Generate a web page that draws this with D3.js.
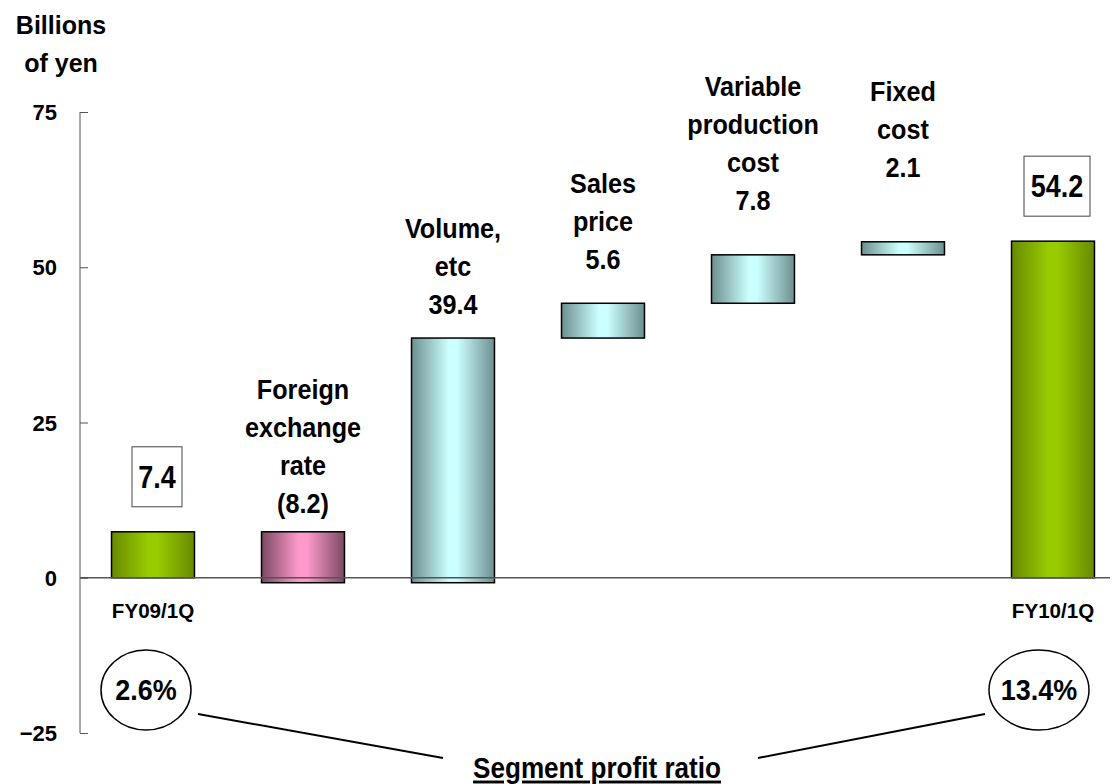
<!DOCTYPE html>
<html><head><meta charset="utf-8">
<script src="https://cdn.jsdelivr.net/npm/d3@7"></script>
<style>body{margin:0;background:#fff}svg{display:block}</style>
</head><body><div id="c"></div>
<script>
const categories = ["FY09/1Q","Foreign exchange rate","Volume, etc","Sales price","Variable production cost","Fixed cost","FY10/1Q"];
const changes = [7.4, -8.2, 39.4, 5.6, 7.8, 2.1, 54.2];
const kinds = ["total","neg","pos","pos","pos","pos","total"];
const labelLines = [null, ["Foreign","exchange","rate","(8.2)"], ["Volume,","etc","39.4"], ["Sales","price","5.6"], ["Variable","production","cost","7.8"], ["Fixed","cost","2.1"], null];
const axisTitle = ["Billions","of yen"];
const yTicks = [-25, 0, 25, 50, 75];
const ratios = ["2.6%", "13.4%"];
const ratioTitle = "Segment profit ratio";

// layout: gap (px) between bar top and centre of the last label line
const labelGap = [0, 29, 34, 44, 55, 75, 0];

const W = 1113, H = 784;
const svg = d3.select("#c").append("svg").attr("width", W).attr("height", H);
const font = "'Liberation Sans',Arial,sans-serif";

const y = d3.scaleLinear().domain([-25, 75]).range([733, 112]);
const x = d3.scaleBand().domain(categories).range([78, 1128]).paddingInner(0.447).paddingOuter(0.2235);

let run = 0;
const segs = changes.map((v, i) => {
  let lo, hi;
  if (kinds[i] === "total") { lo = 0; hi = v; run = v; }
  else { const s = run, e = run + v; lo = Math.min(s, e); hi = Math.max(s, e); run = e; }
  return {cat: categories[i], lo, hi, kind: kinds[i], v, i};
});

const defs = svg.append("defs");
function grad(id, edge, mid) {
  const g = defs.append("linearGradient").attr("id", id).attr("x1", "0").attr("x2", "1").attr("y1", "0").attr("y2", "0");
  g.append("stop").attr("offset", "0%").attr("stop-color", edge);
  g.append("stop").attr("offset", "45%").attr("stop-color", mid);
  g.append("stop").attr("offset", "55%").attr("stop-color", mid);
  g.append("stop").attr("offset", "100%").attr("stop-color", edge);
}
grad("gGreen", "#678a00", "#99cc00");
grad("gPink", "#7a4a60", "#ff99cc");
grad("gCyan", "#6d8f8f", "#ccffff");
const fillOf = k => k === "total" ? "url(#gGreen)" : k === "neg" ? "url(#gPink)" : "url(#gCyan)";

function ctext(parent, cx, cy, txt, size, sx) {
  return parent.append("text")
    .attr("transform", `translate(${cx},${cy}) scale(${sx},1)`)
    .attr("text-anchor", "middle").attr("dy", "0.36em")
    .attr("font-family", font).attr("font-weight", "bold").attr("font-size", size)
    .text(txt);
}

svg.append("g").selectAll("rect").data(segs).join("rect")
  .attr("x", d => x(d.cat)).attr("width", x.bandwidth())
  .attr("y", d => y(d.hi)).attr("height", d => y(d.lo) - y(d.hi))
  .attr("fill", d => fillOf(d.kind)).attr("stroke", "#000").attr("stroke-width", 1.5);

const axis = d3.axisLeft(y).tickValues(yTicks).tickSize(-8).tickPadding(22);
const ga = svg.append("g").attr("transform", "translate(80,0)").call(axis);
ga.select(".domain").attr("stroke", "#555").attr("d", `M0,${y(75)}V${y(-25)}`);
ga.selectAll(".tick line").attr("stroke", "#555");
ga.selectAll(".tick text").attr("font-family", font).attr("font-weight", "bold").attr("font-size", 22).attr("fill", "#000").attr("dy", "0.35em").attr("x", -23);

svg.append("line").attr("x1", 80).attr("x2", 1110).attr("y1", y(0)).attr("y2", y(0)).attr("stroke", "#555").attr("stroke-width", 1.5);

svg.append("g").selectAll("text").data(axisTitle).join("text")
  .attr("x", 61).attr("y", (d, i) => 34 + i * 38).attr("text-anchor", "middle")
  .attr("font-family", font).attr("font-weight", "bold").attr("font-size", 25).text(d => d);

segs.forEach(s => {
  const lines = labelLines[s.i];
  if (!lines) return;
  const cx = x(s.cat) + x.bandwidth() / 2;
  const n = lines.length;
  const last = y(s.hi) - labelGap[s.i];
  const g = svg.append("g");
  lines.forEach((t, j) => ctext(g, cx, last - (n - 1 - j) * 38, t, 28, 0.9));
});

[0, 6].forEach(i => {
  const s = segs[i];
  const cx = x(s.cat) + x.bandwidth() / 2 + 4;
  const cy = y(s.hi) - 55;
  const t = d3.format(".1f")(s.v);
  const bw = i === 0 ? 50 : 66;
  svg.append("rect").attr("x", cx - bw / 2).attr("y", cy - 30).attr("width", bw).attr("height", 60)
    .attr("fill", "#fff").attr("stroke", "#444").attr("stroke-width", 1);
  ctext(svg, cx, cy, t, 31, 0.87);
  ctext(svg, x(s.cat) + x.bandwidth() / 2, 610, s.cat, 21, 0.98);
});

const ell = [{cx: 146, rx: 45, t: ratios[0]}, {cx: 1039, rx: 50, t: ratios[1]}];
ell.forEach(e => {
  svg.append("ellipse").attr("cx", e.cx).attr("cy", 690).attr("rx", e.rx).attr("ry", 40)
    .attr("fill", "#fff").attr("stroke", "#000").attr("stroke-width", 1.5);
  ctext(svg, e.cx, 690, e.t, 29, 0.93);
});
svg.append("line").attr("x1", 198).attr("y1", 714).attr("x2", 443).attr("y2", 758).attr("stroke", "#000").attr("stroke-width", 2);
svg.append("line").attr("x1", 758).attr("y1", 758).attr("x2", 985).attr("y2", 714).attr("stroke", "#000").attr("stroke-width", 2);
ctext(svg, 597, 768, ratioTitle, 29, 0.9).attr("text-decoration", "underline");
</script></body></html>
